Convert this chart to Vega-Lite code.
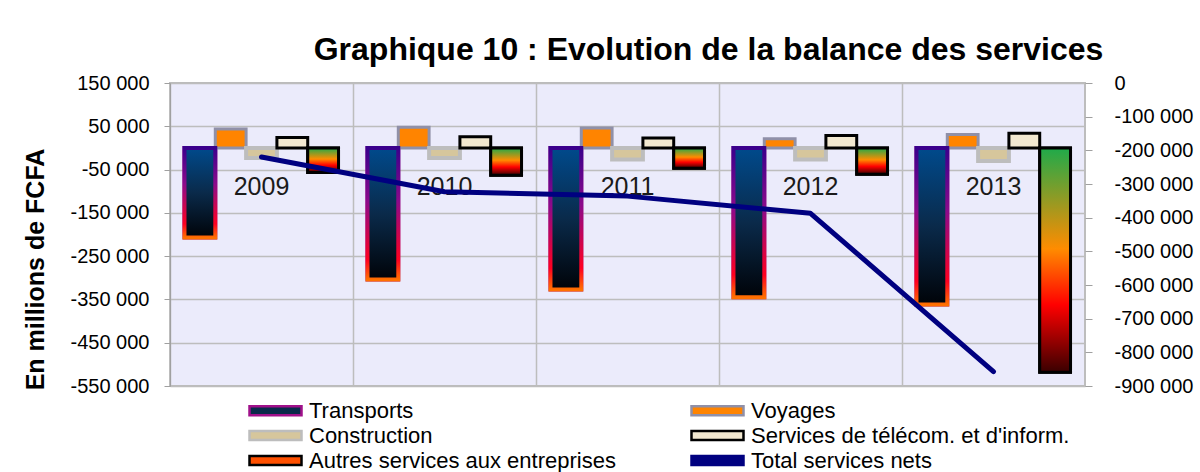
{
  "$schema": "https://vega.github.io/schema/vega-lite/v6.json",
  "width": 915,
  "height": 303,
  "autosize": {"type": "none"},
  "padding": {"left": 170, "top": 83, "right": 115, "bottom": 86},
  "background": "white",
  "config": {
    "font": "Liberation Sans",
    "view": {"fill": "#ebebfb", "stroke": "#bdbdbd", "strokeWidth": 2}
  },
  "title": {
    "text": "Graphique 10 : Evolution de la balance des services",
    "font": "Liberation Sans",
    "fontSize": 32,
    "fontWeight": "bold",
    "color": "#000000",
    "anchor": "middle",
    "frame": "group",
    "dx": 81,
    "dy": 41,
    "offset": 22,
    "baseline": "alphabetic"
  },
  "datasets": {
    "barres": [
      {"annee": "2009", "serie": "Transports", "valeur": -207000},
      {"annee": "2009", "serie": "Voyages", "valeur": 44000},
      {"annee": "2009", "serie": "Construction", "valeur": -23000},
      {"annee": "2009", "serie": "Services de télécom. et d'inform.", "valeur": 24000},
      {"annee": "2009", "serie": "Autres services aux entreprises", "valeur": -57000},
      {"annee": "2010", "serie": "Transports", "valeur": -304000},
      {"annee": "2010", "serie": "Voyages", "valeur": 48000},
      {"annee": "2010", "serie": "Construction", "valeur": -23000},
      {"annee": "2010", "serie": "Services de télécom. et d'inform.", "valeur": 26000},
      {"annee": "2010", "serie": "Autres services aux entreprises", "valeur": -63000},
      {"annee": "2011", "serie": "Transports", "valeur": -327000},
      {"annee": "2011", "serie": "Voyages", "valeur": 46000},
      {"annee": "2011", "serie": "Construction", "valeur": -27000},
      {"annee": "2011", "serie": "Services de télécom. et d'inform.", "valeur": 23000},
      {"annee": "2011", "serie": "Autres services aux entreprises", "valeur": -47000},
      {"annee": "2012", "serie": "Transports", "valeur": -345000},
      {"annee": "2012", "serie": "Voyages", "valeur": 21000},
      {"annee": "2012", "serie": "Construction", "valeur": -27000},
      {"annee": "2012", "serie": "Services de télécom. et d'inform.", "valeur": 29000},
      {"annee": "2012", "serie": "Autres services aux entreprises", "valeur": -61000},
      {"annee": "2013", "serie": "Transports", "valeur": -362000},
      {"annee": "2013", "serie": "Voyages", "valeur": 31000},
      {"annee": "2013", "serie": "Construction", "valeur": -30000},
      {"annee": "2013", "serie": "Services de télécom. et d'inform.", "valeur": 34000},
      {"annee": "2013", "serie": "Autres services aux entreprises", "valeur": -518000}
    ],
    "total": [
      {"annee": "2009", "serie": "Total services nets", "total": -220000},
      {"annee": "2010", "serie": "Total services nets", "total": -323000},
      {"annee": "2011", "serie": "Total services nets", "total": -336000},
      {"annee": "2012", "serie": "Total services nets", "total": -387000},
      {"annee": "2013", "serie": "Total services nets", "total": -857000}
    ]
  },
  "layer": [
    {
      "layer": [
        {
          "data": {"name": "barres"},
          "mark": {"type": "bar"},
          "encoding": {
            "x": {
              "field": "annee", "type": "nominal",
              "scale": {"paddingInner": 0, "paddingOuter": 0},
              "axis": {"labels": false, "ticks": false, "domain": false, "grid": true, "bandPosition": 0, "gridColor": "#bdbdbd", "gridWidth": 1.5, "title": null}
            },
            "xOffset": {
              "field": "serie", "type": "nominal",
              "scale": {"domain": ["Transports", "Voyages", "Construction", "Services de télécom. et d'inform.", "Autres services aux entreprises"], "paddingInner": 0, "paddingOuter": 0.47}
            },
            "y": {
              "field": "valeur", "type": "quantitative", "stack": null,
              "scale": {"domain": [-550000, 150000], "nice": false, "zero": false},
              "axis": {
                "values": [150000, 50000, -50000, -150000, -250000, -350000, -450000, -550000],
                "labelExpr": "(datum.value < 0 ? '-' : '') + replace(format(abs(datum.value), ','), ',', ' ')",
                "grid": true, "gridColor": "#bdbdbd", "gridWidth": 1.5,
                "domain": true, "domainColor": "#a0a0a0", "tickColor": "#a0a0a0", "tickSize": 6,
                "labelFontSize": 20, "labelColor": "#000000", "labelPadding": 15,
                "title": "En millions de FCFA", "titleFontSize": 25, "titleFontWeight": "bold", "titleColor": "#000000",
                "titleX": -135, "titleY": 186, "titleAngle": -90, "titleAlign": "center", "titleBaseline": "middle"
              }
            },
            "fill": {
              "field": "serie", "type": "nominal",
              "scale": {
                "domain": ["Transports", "Voyages", "Construction", "Services de télécom. et d'inform.", "Autres services aux entreprises", "Total services nets"],
                "range": ["#0a2a4a", "#ff8400", "#d6c69c", "#f2e8d0", "#ff5000", "#000080"]
              },
              "legend": {
                "title": null,
                "orient": "none",
                "direction": "horizontal",
                "legendX": 78,
                "legendY": 316,
                "columns": 2,
                "columnPadding": 70,
                "rowPadding": 2,
                "symbolType": "M-1,-0.45H4.2V0.45H-1Z",
                "symbolSize": 400,
                "symbolStrokeWidth": 2.5,
                "labelFontSize": 22,
                "labelColor": "#000000",
                "labelOffset": 38,
                "labelLimit": 400
              }
            },
            "stroke": {
              "field": "serie", "type": "nominal",
              "scale": {
                "domain": ["Transports", "Voyages", "Construction", "Services de télécom. et d'inform.", "Autres services aux entreprises", "Total services nets"],
                "range": ["#a0108a", "#9090a8", "#bdbdbd", "#000000", "#000000", "#000080"]
              },
              "legend": {
                "title": null,
                "orient": "none",
                "direction": "horizontal",
                "legendX": 78,
                "legendY": 316,
                "columns": 2,
                "columnPadding": 70,
                "rowPadding": 2,
                "symbolType": "M-1,-0.45H4.2V0.45H-1Z",
                "symbolSize": 400,
                "symbolStrokeWidth": 2.5,
                "labelFontSize": 22,
                "labelColor": "#000000",
                "labelOffset": 38,
                "labelLimit": 400
              }
            },
            "strokeWidth": {
              "condition": [
                {"test": "datum.serie === 'Transports'", "value": 4},
                {"test": "datum.serie === 'Construction'", "value": 4}
              ],
              "value": 3
            }
          }
        },
        {
          "data": {"name": "barres"},
          "transform": [{"filter": "datum.serie === 'Transports' || datum.serie === 'Autres services aux entreprises'"}],
          "mark": {"type": "bar"},
          "encoding": {
            "x": {"field": "annee", "type": "nominal"},
            "xOffset": {"field": "serie", "type": "nominal"},
            "y": {"field": "valeur", "type": "quantitative", "stack": null},
            "fill": {
              "condition": {"test": "datum.serie === 'Transports'", "value": {"gradient": "linear", "x1": 0, "y1": 0, "x2": 0, "y2": 1, "stops": [{"offset": 0, "color": "#004a8c"}, {"offset": 0.5, "color": "#0a2a4a"}, {"offset": 1, "color": "#000308"}]}},
              "value": {"gradient": "linear", "x1": 0, "y1": 0, "x2": 0, "y2": 1, "stops": [{"offset": 0, "color": "#1faa4a"}, {"offset": 0.45, "color": "#ff8c00"}, {"offset": 0.7, "color": "#ff0000"}, {"offset": 1, "color": "#3a0000"}]}
            },
            "stroke": {
              "condition": {"test": "datum.serie === 'Transports'", "value": {"gradient": "linear", "x1": 0, "y1": 0, "x2": 0, "y2": 1, "stops": [{"offset": 0, "color": "#3a008c"}, {"offset": 0.4, "color": "#8b0a8b"}, {"offset": 0.85, "color": "#ff0020"}, {"offset": 1, "color": "#ff7000"}]}},
              "value": "#000000"
            },
            "strokeWidth": {
              "condition": {"test": "datum.serie === 'Transports'", "value": 4},
              "value": 3
            }
          }
        },
        {
          "data": {"name": "total"},
          "mark": {"type": "text", "fontSize": 25, "color": "#1a1a1a", "baseline": "middle", "align": "center"},
          "encoding": {
            "x": {"field": "annee", "type": "nominal"},
            "y": {"datum": -91000, "type": "quantitative"},
            "text": {"field": "annee"}
          }
        }
      ]
    },
    {
      "data": {"name": "total"},
      "mark": {"type": "line", "strokeWidth": 5, "strokeCap": "round", "strokeJoin": "round"},
      "encoding": {
        "x": {"field": "annee", "type": "nominal"},
        "y": {
          "field": "total", "type": "quantitative",
          "scale": {"domain": [-900000, 0], "nice": false, "zero": false},
          "axis": {
            "orient": "right",
            "values": [0, -100000, -200000, -300000, -400000, -500000, -600000, -700000, -800000, -900000],
            "labelExpr": "(datum.value < 0 ? '-' : '') + replace(format(abs(datum.value), ','), ',', ' ')",
            "grid": false, "domain": false, "tickColor": "#a0a0a0", "tickSize": 7,
            "labelFontSize": 20, "labelColor": "#000000", "labelPadding": 22, "title": null
          }
        },
        "stroke": {"field": "serie", "type": "nominal"}
      }
    }
  ],
  "resolve": {"scale": {"y": "independent"}}
}
